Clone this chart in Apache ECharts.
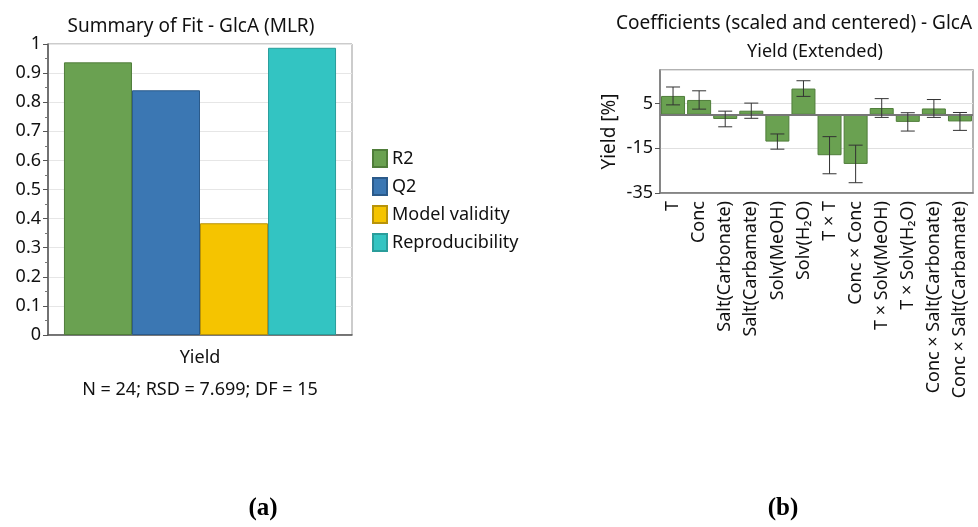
<!DOCTYPE html>
<html><head><meta charset="utf-8">
<script src="https://cdn.jsdelivr.net/npm/echarts@6/dist/echarts.min.js"></script>
<style>html,body{margin:0;padding:0;background:#fff}#c{width:978px;height:527px}</style>
</head><body><div id="c"></div>
<script>
// ---- Data: Summary of Fit ----
const fitCategories = ['Yield'];
const fitSeriesNames = ['R2', 'Q2', 'Model validity', 'Reproducibility'];
const fitValues = [0.937, 0.841, 0.384, 0.987];
const fitTicks = [0, 0.1, 0.2, 0.3, 0.4, 0.5, 0.6, 0.7, 0.8, 0.9, 1];

// ---- Data: Coefficients ----
const coefTerms = ['T', 'Conc', 'Salt(Carbonate)', 'Salt(Carbamate)', 'Solv(MeOH)', 'Solv(H\u2082O)',
  'T \u00d7 T', 'Conc \u00d7 Conc', 'T \u00d7 Solv(MeOH)', 'T \u00d7 Solv(H\u2082O)',
  'Conc \u00d7 Salt(Carbonate)', 'Conc \u00d7 Salt(Carbamate)'];
const coefValues = [8.4, 6.6, -1.9, 1.8, -12.0, 11.7, -18.1, -22.0, 3.0, -3.2, 2.8, -3.0];
const coefCI = [4.0, 4.1, 3.5, 3.4, 3.4, 3.5, 8.3, 8.4, 4.2, 4.1, 4.0, 4.0];
const coefTicks = [-35, -15, 5];

const FONT = 'Noto Sans';
const fitColors = ['#6aa151', '#3b77b3', '#f5c400', '#33c4c2'];
const fitBorders = ['#4f7d3a', '#2b5a8a', '#b8930a', '#2a9d9b'];

const chart = echarts.init(document.getElementById('c'), null, {renderer: 'canvas'});

const fitSeries = fitSeriesNames.map((n, i) => ({
  name: n, type: 'bar', xAxisIndex: 0, yAxisIndex: 0,
  data: [fitValues[i]], barGap: '0%', barCategoryGap: '10.5%',
  itemStyle: {color: fitColors[i], borderColor: fitBorders[i], borderWidth: 1}
}));

const errData = coefTerms.map((t, i) => [i, coefValues[i] - coefCI[i], coefValues[i] + coefCI[i]]);

chart.setOption({
  animation: false,
  textStyle: {fontFamily: FONT},
  title: [
    {text: 'Summary of Fit - GlcA (MLR)', left: 186, top: 12, textAlign: 'center',
     textStyle: {fontFamily: FONT, fontSize: 19, fontWeight: 'normal', color: '#111'}},
    {text: 'Coefficients (scaled and centered) - GlcA', left: 789, top: 9, textAlign: 'center',
     textStyle: {fontFamily: FONT, fontSize: 19, fontWeight: 'normal', color: '#111'}},
    {text: 'Yield (Extended)', left: 810, top: 38, textAlign: 'center',
     textStyle: {fontFamily: FONT, fontSize: 18, fontWeight: 'normal', color: '#111'}}
  ],
  graphic: [
    {type: 'text', x: 200, y: 390, style: {text: 'N = 24; RSD = 7.699; DF = 15', fontFamily: FONT, fontSize: 18, fill: '#111', textAlign: 'center', textVerticalAlign: 'middle'}},
    {type: 'text', x: 263, y: 509, style: {text: '(a)', fontFamily: 'Liberation Serif', fontWeight: 'bold', fontSize: 25, fill: '#000', textAlign: 'center', textVerticalAlign: 'middle'}},
    {type: 'text', x: 783, y: 509, style: {text: '(b)', fontFamily: 'Liberation Serif', fontWeight: 'bold', fontSize: 25, fill: '#000', textAlign: 'center', textVerticalAlign: 'middle'}}
  ],
  legend: {
    data: fitSeriesNames, orient: 'vertical', left: 367, top: 144,
    itemWidth: 14, itemHeight: 17, itemGap: 9,
    textStyle: {fontFamily: FONT, fontSize: 18, color: '#111'},
    icon: 'rect'
  },
  grid: [
    {left: 48, width: 304, top: 44, height: 291, show: true, borderColor: '#999', borderWidth: 1, backgroundColor: '#fff'},
    {left: 660, width: 313, top: 70, height: 123, show: true, borderColor: '#999', borderWidth: 1.5, backgroundColor: '#fff'}
  ],
  xAxis: [
    {type: 'category', gridIndex: 0, data: fitCategories,
     axisLine: {lineStyle: {color: '#555', width: 1.5}},
     axisTick: {alignWithLabel: true, length: 5, lineStyle: {color: '#555'}},
     axisLabel: {fontFamily: FONT, fontSize: 18, color: '#111', margin: 14}},
    {type: 'category', gridIndex: 1, data: coefTerms,
     axisLine: {onZero: false, lineStyle: {color: '#777', width: 1.5}},
     axisTick: {alignWithLabel: true, length: 5, lineStyle: {color: '#555'}},
     axisLabel: {fontFamily: FONT, fontSize: 18, color: '#111', rotate: 90, margin: 8, interval: 0}}
  ],
  yAxis: [
    {type: 'value', gridIndex: 0, min: 0, max: 1, interval: 0.1,
     axisLine: {show: true, lineStyle: {color: '#555', width: 1.5}},
     axisTick: {show: true, length: 5, lineStyle: {color: '#555'}},
     minorTick: {show: true, splitNumber: 2, length: 3, lineStyle: {color: '#777'}},
     splitLine: {lineStyle: {color: '#e6e6e6'}},
     axisLabel: {fontFamily: FONT, fontSize: 18, color: '#111', margin: 7,
       formatter: v => (fitTicks.some(t => Math.abs(t - v) < 1e-9) ? String(+v.toFixed(1)) : '')}},
    {type: 'value', gridIndex: 1, min: -35, max: 20, interval: 20,
     name: 'Yield [%]', nameLocation: 'middle', nameGap: 41,
     nameTextStyle: {fontFamily: FONT, fontSize: 19, color: '#111'},
     axisLine: {show: true, lineStyle: {color: '#777', width: 1.5}},
     axisTick: {show: true, length: 5, lineStyle: {color: '#555'}},
     splitLine: {lineStyle: {color: '#e0e0e0'}},
     axisLabel: {fontFamily: FONT, fontSize: 18, color: '#111', margin: 7, showMaxLabel: false,
       formatter: v => (coefTicks.indexOf(v) >= 0 ? String(v) : '')}}
  ],
  series: fitSeries.concat([
    {type: 'bar', xAxisIndex: 1, yAxisIndex: 1, data: coefValues, barCategoryGap: '8%',
     itemStyle: {color: '#6aa151', borderColor: '#4f7d3a', borderWidth: 1},
     markLine: {silent: true, symbol: 'none', label: {show: false},
       lineStyle: {color: '#777', width: 2, type: 'solid'}, data: [{yAxis: 0}]}},
    {type: 'custom', xAxisIndex: 1, yAxisIndex: 1, data: errData, z: 10,
     renderItem: function (params, api) {
       const x = api.value(0);
       const lo = api.coord([x, api.value(1)]);
       const hi = api.coord([x, api.value(2)]);
       const hw = 7;
       const st = {stroke: '#333', lineWidth: 1};
       return {type: 'group', children: [
         {type: 'line', shape: {x1: lo[0], y1: lo[1], x2: hi[0], y2: hi[1]}, style: st},
         {type: 'line', shape: {x1: lo[0] - hw, y1: lo[1], x2: lo[0] + hw, y2: lo[1]}, style: st},
         {type: 'line', shape: {x1: hi[0] - hw, y1: hi[1], x2: hi[0] + hw, y2: hi[1]}, style: st}
       ]};
     }}
  ])
});
</script></body></html>
